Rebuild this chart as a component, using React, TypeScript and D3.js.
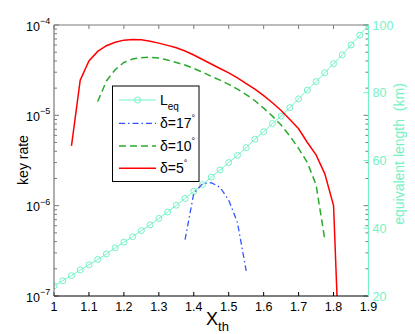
import React from 'react'
import * as d3 from 'd3'

// x grid shared by all series (X_th)
const leqX = [1.0, 1.025, 1.05, 1.075, 1.1, 1.125, 1.15, 1.175, 1.2, 1.225, 1.25, 1.275, 1.3, 1.325, 1.35, 1.375, 1.4, 1.425, 1.45, 1.475, 1.5, 1.525, 1.55, 1.575, 1.6, 1.625, 1.65, 1.675, 1.7, 1.725, 1.75, 1.775, 1.8, 1.825, 1.85, 1.875, 1.9]
const leqY = [23.0, 24.5, 26.0, 27.7, 29.2, 30.8, 32.4, 34.2, 35.9, 37.5, 39.3, 41.0, 42.9, 44.8, 46.8, 48.8, 50.9, 52.9, 55.1, 57.2, 59.4, 61.5, 63.8, 66.3, 68.5, 70.9, 73.1, 75.6, 78.2, 80.8, 83.3, 85.9, 88.6, 91.2, 94.1, 97.0, 100]

const d17X = [1.375, 1.4, 1.425, 1.45, 1.475, 1.5, 1.525, 1.55]
const d17Y = [4.2e-7, 1.37e-6, 1.75e-6, 1.8e-6, 1.6e-6, 1.15e-6, 6.5e-7, 1.9e-7]

const d10X = [1.125, 1.15, 1.175, 1.2, 1.225, 1.25, 1.275, 1.3, 1.325, 1.35, 1.375, 1.4, 1.425, 1.45, 1.475, 1.5, 1.525, 1.55, 1.575, 1.6, 1.625, 1.65, 1.675, 1.7, 1.725, 1.75, 1.775]
const d10Y = [1.42e-5, 2.4e-5, 3.2e-5, 3.85e-5, 4.2e-5, 4.35e-5, 4.4e-5, 4.3e-5, 4.1e-5, 3.85e-5, 3.6e-5, 3.3e-5, 3.0e-5, 2.7e-5, 2.45e-5, 2.2e-5, 1.95e-5, 1.7e-5, 1.45e-5, 1.2e-5, 9.8e-6, 7.8e-6, 5.9e-6, 4.3e-6, 3.0e-6, 1.7e-6, 4.2e-7]

const d5X = [1.05, 1.075, 1.1, 1.125, 1.15, 1.175, 1.2, 1.225, 1.25, 1.275, 1.3, 1.325, 1.35, 1.375, 1.4, 1.425, 1.45, 1.475, 1.5, 1.525, 1.55, 1.575, 1.6, 1.625, 1.65, 1.675, 1.7, 1.725, 1.75, 1.775, 1.8, 1.825]
const d5Y = [4.6e-6, 2.45e-5, 4.0e-5, 5.1e-5, 5.9e-5, 6.45e-5, 6.8e-5, 6.9e-5, 6.85e-5, 6.6e-5, 6.3e-5, 5.95e-5, 5.6e-5, 5.15e-5, 4.65e-5, 4.15e-5, 3.7e-5, 3.3e-5, 2.95e-5, 2.6e-5, 2.25e-5, 1.95e-5, 1.65e-5, 1.38e-5, 1.13e-5, 9.0e-6, 7.1e-6, 5.0e-6, 3.65e-6, 2.25e-6, 1.0e-6, 3e-9]

const xTicks = [1, 1.1, 1.2, 1.3, 1.4, 1.5, 1.6, 1.7, 1.8, 1.9]
const xTickLabels = ['1', '1.1', '1.2', '1.3', '1.4', '1.5', '1.6', '1.7', '1.8', '1.9']
const leftTicks = [1e-7, 1e-6, 1e-5, 1e-4]
const leftExps = ['\u22127', '\u22126', '\u22125', '\u22124']
const rightTicks = [20, 40, 60, 80, 100]

const FONT = '"Liberation Sans", Arial, Helvetica, sans-serif'
const AQUA = '#74f2c4'
const GRAY = '#7a7a7a'
const RED = '#ff0000'
const GREEN = '#2aaa2a'
const BLUE = '#3355ff'

const App = () => {
  const W = 415, H = 334
  const left = 54, right = 368.5, top = 25, bottom = 296

  const x = d3.scaleLinear().domain([1, 1.9]).range([left, right])
  const yL = d3.scaleLog().domain([1e-7, 1e-4]).range([bottom, top])
  const yR = d3.scaleLinear().domain([20, 100]).range([bottom, top])

  const pts = (xs: number[], ys: number[]) => xs.map((v, i) => [v, ys[i]] as [number, number])
  const lineL = d3.line<[number, number]>().x(d => x(d[0])).y(d => yL(d[1]))
  const lineR = d3.line<[number, number]>().x(d => x(d[0])).y(d => yR(d[1]))

  const minor = yL.ticks().filter(v => !leftTicks.includes(v))

  const legend = [
    { label: 'L', sub: 'eq', color: AQUA, dash: '', marker: true, w: 1 },
    { label: '\u03b4=17', sup: '\u00b0', color: BLUE, dash: '6,3,1.5,3', marker: false, w: 1.3 },
    { label: '\u03b4=10', sup: '\u00b0', color: GREEN, dash: '7,4', marker: false, w: 1.5 },
    { label: '\u03b4=5', sup: '\u00b0', color: RED, dash: '', marker: false, w: 1.5 },
  ]
  const legRows = [100, 123.3, 146, 168.3]

  return (
    <svg width={W} height={H} style={{ position: 'absolute', left: 0, top: 0, background: '#fff' }} fontFamily={FONT}>
      <defs>
        <clipPath id="plot">
          <rect x={left} y={top} width={right - left} height={bottom - top} />
        </clipPath>
      </defs>
      <rect x={0} y={0} width={W} height={H} fill="#fff" />

      {/* left log ticks (both sides) */}
      {leftTicks.map(v => (
        <g key={'lt' + v}>
          <line x1={left} x2={left + 5} y1={yL(v)} y2={yL(v)} stroke={GRAY} />
          <line x1={right} x2={right - 5} y1={yL(v)} y2={yL(v)} stroke={GRAY} />
        </g>
      ))}
      {minor.map(v => (
        <g key={'mt' + v}>
          <line x1={left} x2={left + 3} y1={yL(v)} y2={yL(v)} stroke={GRAY} />
          <line x1={right} x2={right - 3} y1={yL(v)} y2={yL(v)} stroke={GRAY} />
        </g>
      ))}
      {/* x ticks */}
      {xTicks.map(v => (
        <g key={'xt' + v}>
          <line x1={x(v)} x2={x(v)} y1={bottom} y2={bottom - 4} stroke="#000" />
          <line x1={x(v)} x2={x(v)} y1={top} y2={top + 4} stroke={GRAY} />
        </g>
      ))}
      {/* right ticks */}
      {rightTicks.map(v => (
        <line key={'rt' + v} x1={right} x2={right - 5} y1={yR(v)} y2={yR(v)} stroke={AQUA} />
      ))}

      <g clipPath="url(#plot)">
        <path d={lineR(pts(leqX, leqY)) || ''} fill="none" stroke={AQUA} strokeWidth={1} />
        {leqX.map((v, i) => (
          <circle key={'m' + i} cx={x(v)} cy={yR(leqY[i])} r={3} fill="none" stroke={AQUA} strokeWidth={1} />
        ))}
        <path d={lineL(pts(d17X, d17Y)) || ''} fill="none" stroke={BLUE} strokeWidth={1.3} strokeDasharray="6,3,1.5,3" />
        <path d={lineL(pts(d10X, d10Y)) || ''} fill="none" stroke={GREEN} strokeWidth={1.5} strokeDasharray="7,4" />
        <path d={lineL(pts(d5X, d5Y)) || ''} fill="none" stroke={RED} strokeWidth={1.5} />
      </g>

      {/* axis frame */}
      <line x1={left} x2={right} y1={top} y2={top} stroke={GRAY} strokeWidth={1.2} />
      <line x1={left} x2={left} y1={top} y2={bottom} stroke={GRAY} strokeWidth={1.2} />
      <line x1={left} x2={right} y1={bottom} y2={bottom} stroke="#000" strokeWidth={1.2} />
      <line x1={right} x2={right} y1={top} y2={bottom} stroke={AQUA} strokeWidth={1.2} />

      {/* x tick labels */}
      {xTicks.map((v, i) => (
        <text key={'xl' + v} x={x(v)} y={311} fontSize={12.5} textAnchor="middle" fill="#000">{xTickLabels[i]}</text>
      ))}
      {/* left tick labels */}
      {leftTicks.map((v, i) => (
        <text key={'yl' + v} x={26} y={yL(v) + 5.5} fontSize={12.5} fill="#000">
          10<tspan dy={-6.5} fontSize={9}>{leftExps[i]}</tspan>
        </text>
      ))}
      {/* right tick labels */}
      {rightTicks.map(v => (
        <text key={'yr' + v} x={372.5} y={yR(v) + 4.5} fontSize={12.5} fill={AQUA}>{v}</text>
      ))}

      {/* axis titles */}
      <text x={206} y={325} fontSize={18} fill="#000">X<tspan dy={6} fontSize={13}>th</tspan></text>
      <text transform={`translate(28,160) rotate(-90)`} fontSize={14} textAnchor="middle" fill="#000">key rate</text>
      <text transform={`translate(404,154) rotate(-90)`} fontSize={14} textAnchor="middle" fill={AQUA} style={{ whiteSpace: 'pre' }}>equivalent length  (km)</text>

      {/* legend */}
      <rect x={112.5} y={86} width={86.5} height={95.5} fill="#fff" stroke="#000" strokeWidth={1} />
      {legend.map((d, i) => (
        <g key={'lg' + i}>
          <line x1={119} x2={156} y1={legRows[i]} y2={legRows[i]} stroke={d.color} strokeWidth={d.w} strokeDasharray={d.dash || undefined} />
          {d.marker && <circle cx={137.5} cy={legRows[i]} r={3} fill="none" stroke={d.color} />}
          <text x={160} y={legRows[i] + 5} fontSize={14} fill="#000">
            {d.label}
            {d.sub && <tspan dy={5} fontSize={10}>{d.sub}</tspan>}
            {d.sup && <tspan dy={-7} fontSize={9}>{d.sup}</tspan>}
          </text>
        </g>
      ))}
    </svg>
  )
}

export default App
